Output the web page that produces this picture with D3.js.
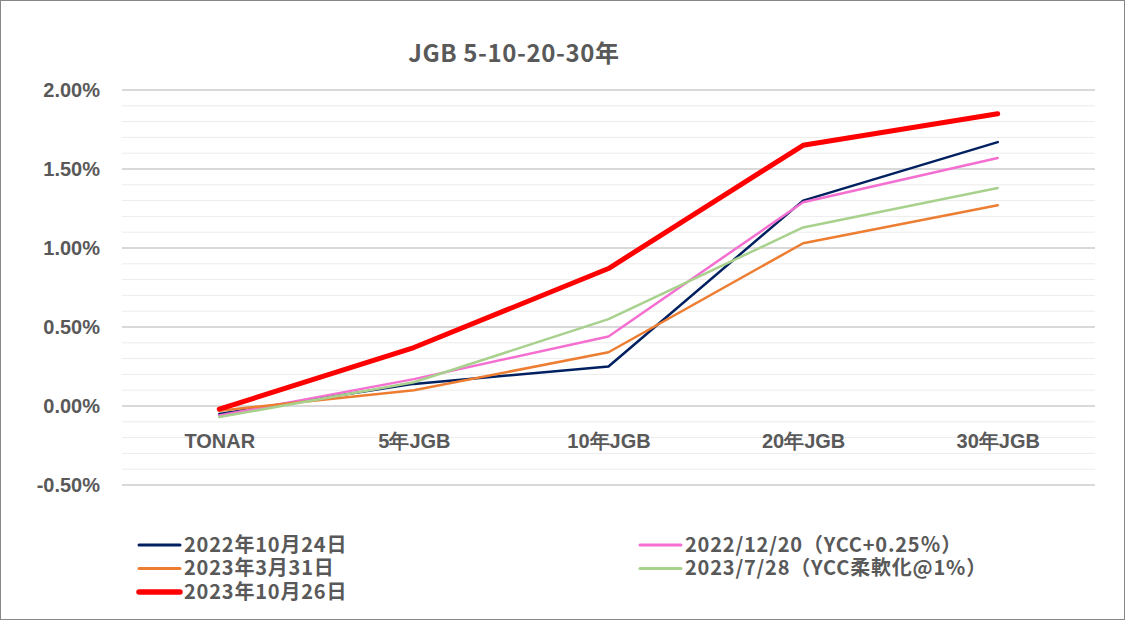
<!DOCTYPE html>
<html>
<head>
<meta charset="utf-8">
<script src="https://cdn.jsdelivr.net/npm/d3@7"></script>
<style>
  html, body { margin: 0; padding: 0; background: #fff; }
  svg { display: block; font-family: "Noto Sans CJK JP", "Noto Sans", sans-serif; }
</style>
</head>
<body>
<div id="chart"></div>
<script>
// chart data (values in %)
const categories = ["TONAR", "5年JGB", "10年JGB", "20年JGB", "30年JGB"];
const seriesNames = [
  "2022年10月24日",
  "2022/12/20（YCC+0.25％）",
  "2023年3月31日",
  "2023/7/28（YCC柔軟化@1%）",
  "2023年10月26日"
];
const values_20221024 = [-0.05, 0.14, 0.25, 1.30, 1.67];
const values_20221220 = [-0.06, 0.17, 0.44, 1.29, 1.57];
const values_20230331 = [-0.03, 0.10, 0.34, 1.03, 1.27];
const values_20230728 = [-0.07, 0.15, 0.55, 1.13, 1.38];
const values_20231026 = [-0.02, 0.37, 0.87, 1.65, 1.85];
const yTicks = [-0.5, 0, 0.5, 1.0, 1.5, 2.0];

const seriesValues = [values_20221024, values_20221220, values_20230331, values_20230728, values_20231026];
const colors = ["#002060", "#f46fd0", "#ed7d31", "#a9d18e", "#ff0000"];
const widths = [2.5, 2.5, 2.5, 2.5, 5];

const W = 1126, H = 621;
const svg = d3.select("#chart").append("svg")
  .attr("width", W)
  .attr("height", H);

svg.append("rect")
  .attr("x", 0.5).attr("y", 0.5)
  .attr("width", W - 2).attr("height", H - 2)
  .attr("fill", "#fff")
  .attr("stroke", "#878787");

const plot = { left: 122, right: 1095, top: 90, bottom: 485 };

const x = d3.scalePoint()
  .domain(categories)
  .range([plot.left, plot.right])
  .padding(0.5);

const y = d3.scaleLinear()
  .domain([-0.5, 2.0])
  .range([plot.bottom, plot.top]);

// minor gridlines every 0.1%
const minor = d3.range(-5, 21).map(i => i / 10).filter(v => !yTicks.some(t => Math.abs(t - v) < 1e-9));
svg.append("g").selectAll("line")
  .data(minor)
  .join("line")
  .attr("x1", plot.left).attr("x2", plot.right)
  .attr("y1", d => y(d)).attr("y2", d => y(d))
  .attr("stroke", "#ececec")
  .attr("stroke-width", 1);

// major gridlines
svg.append("g").selectAll("line")
  .data(yTicks)
  .join("line")
  .attr("x1", plot.left).attr("x2", plot.right)
  .attr("y1", d => y(d)).attr("y2", d => y(d))
  .attr("stroke", "#d9d9d9")
  .attr("stroke-width", 2);

// y axis labels
const yAxis = svg.append("g")
  .attr("transform", `translate(${plot.left},0)`)
  .call(d3.axisLeft(y).tickValues(yTicks).tickSize(0).tickPadding(22)
    .tickFormat(d => d.toFixed(2) + "%"));
yAxis.select(".domain").remove();
yAxis.selectAll("text")
  .attr("fill", "#595959")
  .style("font-size", "20px")
  .style("font-weight", "bold");

// category labels
const xAxis = svg.append("g")
  .attr("transform", `translate(0,${y(0)})`)
  .call(d3.axisBottom(x).tickSize(0).tickPadding(28));
xAxis.select(".domain").remove();
xAxis.selectAll("text")
  .attr("fill", "#595959")
  .style("font-size", "20px")
  .style("font-weight", "bold");

// lines
const line = d3.line()
  .x((d, i) => x(categories[i]))
  .y(d => y(d));

svg.append("g").selectAll("path")
  .data(seriesValues)
  .join("path")
  .attr("d", d => line(d))
  .attr("fill", "none")
  .attr("stroke", (d, i) => colors[i])
  .attr("stroke-width", (d, i) => widths[i])
  .attr("stroke-linejoin", "round")
  .attr("stroke-linecap", "round");

// title
svg.append("text")
  .attr("x", 514)
  .attr("y", 62)
  .attr("text-anchor", "middle")
  .attr("fill", "#595959")
  .style("font-size", "24px")
  .style("font-weight", "bold")
  .style("letter-spacing", "0.6px")
  .text("JGB 5-10-20-30年");

// legend
const legendPos = [
  [139, 545], [640, 545],
  [139, 568.5], [640, 568.5],
  [139, 592]
];
const legend = svg.append("g").selectAll("g")
  .data(seriesNames)
  .join("g")
  .attr("transform", (d, i) => `translate(${legendPos[i][0]},${legendPos[i][1]})`);

legend.append("line")
  .attr("x1", 0).attr("x2", 41)
  .attr("stroke", (d, i) => colors[i])
  .attr("stroke-width", (d, i) => widths[i] + 0.5)
  .attr("stroke-linecap", "round");

legend.append("text")
  .attr("x", 45)
  .attr("dy", "0.33em")
  .attr("fill", "#595959")
  .style("font-size", "20px")
  .style("font-weight", "bold")
  .style("letter-spacing", "0.8px")
  .text(d => d);
</script>
</body>
</html>
